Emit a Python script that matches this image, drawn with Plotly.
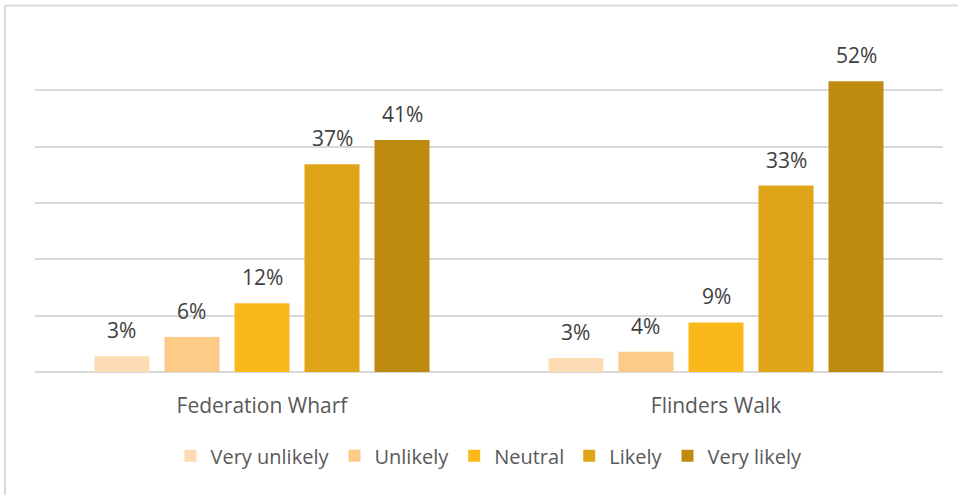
import plotly.graph_objects as go

categories = ["Federation Wharf", "Flinders Walk"]
series = ["Very unlikely", "Unlikely", "Neutral", "Likely", "Very likely"]
values = {
    "Very unlikely": [2.8, 2.5],
    "Unlikely": [6.2, 3.6],
    "Neutral": [12.2, 8.8],
    "Likely": [36.9, 33.1],
    "Very likely": [41.2, 51.6],
}
labels = {
    "Very unlikely": ["3%", "3%"],
    "Unlikely": ["6%", "4%"],
    "Neutral": ["12%", "9%"],
    "Likely": ["37%", "33%"],
    "Very likely": ["41%", "52%"],
}
colors = ["#FDDCB3", "#FCCB88", "#FBB81B", "#E0A418", "#BE8B10"]

font_family = "'Open Sans', sans-serif"
BARGAP = 0.229
BARGROUPGAP = 0.214

fig = go.Figure()
for name, col in zip(series, colors):
    fig.add_trace(go.Bar(
        name=name, x=categories, y=values[name],
        marker=dict(color=col, line=dict(width=0)),
    ))

# data labels placed above each bar using the grouped-bar slot offsets
n = len(series)
slot = (1 - BARGAP) / n
annotations = []
for i, name in enumerate(series):
    for j, cat in enumerate(categories):
        annotations.append(dict(
            x=j + (i - (n - 1) / 2) * slot, y=values[name][j], xref="x", yref="y",
            text=labels[name][j], showarrow=False, yanchor="bottom", yshift=10,
            font=dict(size=21, color="#404040", family=font_family),
        ))

fig.update_layout(
    width=958, height=495,
    margin=dict(l=35, r=15, t=34, b=123),
    paper_bgcolor="white", plot_bgcolor="white",
    barmode="group", bargap=BARGAP, bargroupgap=BARGROUPGAP,
    font=dict(family=font_family, color="#595959", size=21),
    showlegend=True,
    legend=dict(orientation="h", x=0.5, xanchor="center", y=-0.19, yanchor="top",
                font=dict(size=20, color="#595959"), traceorder="normal"),
    xaxis=dict(showgrid=False, showline=False, ticks="", ticklabelstandoff=19,
               tickfont=dict(size=21, color="#595959")),
    yaxis=dict(range=[0, 60], dtick=10, showgrid=True, gridcolor="#D9D9D9", gridwidth=1.5,
               showticklabels=False, zeroline=True, zerolinecolor="#D9D9D9", zerolinewidth=1.5),
    annotations=annotations,
    shapes=[
        dict(type="line", xref="paper", yref="paper", x0=-0.033, x1=1.02, y0=1.0843, y1=1.0843,
             line=dict(color="#D9D9D9", width=2)),
        dict(type="line", xref="paper", yref="paper", x0=-0.033, x1=-0.033, y0=-0.37, y1=1.0843,
             line=dict(color="#D9D9D9", width=2)),
    ],
)
fig.write_html("out.html", config={"displayModeBar": False},
               post_script="document.body.style.margin='0';")
